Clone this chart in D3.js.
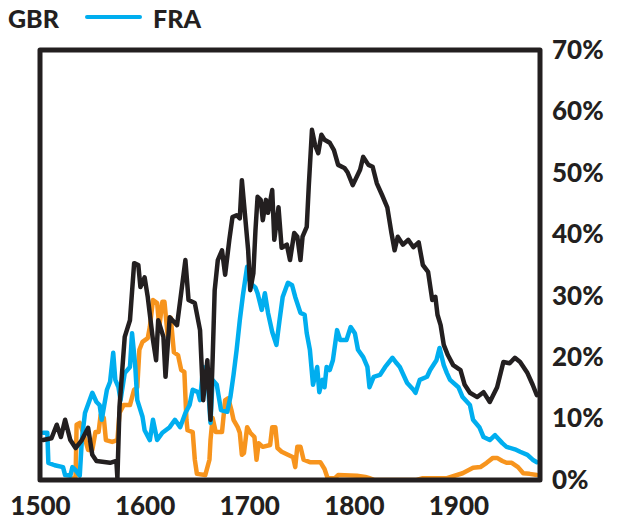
<!DOCTYPE html>
<html>
<head>
<meta charset="utf-8">
<script src="https://cdn.jsdelivr.net/npm/d3@7"></script>
<style>
    body { margin: 0; background: #fff; }
    text { font-family: Lato, 'Open Sans', sans-serif; font-weight: 900; fill: #231f20; }
    .line { fill: none; stroke-width: 4.5; stroke-linejoin: round; stroke-linecap: round; }
</style>
</head>
<body>
<div id="chart"></div>
<script>
// series data (share of total, %)
var gbrYears = [1503, 1511, 1516, 1520, 1524, 1529, 1534, 1540, 1546, 1550, 1554, 1567, 1573, 1574, 1576, 1581, 1586, 1590, 1594, 1596,
    1600, 1603, 1608, 1611, 1613, 1618, 1620, 1624, 1631, 1639, 1642, 1648, 1653, 1656, 1660, 1663, 1665, 1667, 1670, 1674,
    1677, 1681, 1684, 1688, 1691, 1693, 1696, 1699, 1701, 1704, 1706, 1708, 1711, 1713, 1716, 1718, 1722, 1724, 1728, 1731,
    1736, 1739, 1743, 1746, 1749, 1751, 1755, 1757, 1760, 1763, 1766, 1769, 1772, 1777, 1781, 1785, 1791, 1794, 1799, 1806,
    1809, 1814, 1818, 1822, 1827, 1832, 1836, 1839, 1842, 1847, 1852, 1857, 1862, 1866, 1871, 1875, 1878, 1880, 1883, 1886,
    1890, 1895, 1902, 1906, 1911, 1918, 1924, 1930, 1937, 1943, 1949, 1954, 1959, 1966, 1971, 1975];
var gbrValues = [6.5, 6.8, 9.0, 7.0, 9.8, 6.5, 5.2, 6.5, 8.5, 4.1, 3.1, 2.8, 3.1, 0.3, 11.9, 23.3, 26.0, 35.3, 35.0, 31.4,
    33.0, 29.8, 22.8, 19.5, 26.0, 23.3, 16.8, 26.5, 25.2, 35.8, 29.3, 28.8, 24.4, 13.0, 19.5, 9.8, 19.5, 30.9, 35.8, 37.4,
    33.4, 39.1, 42.8, 43.1, 42.6, 48.8, 43.1, 37.4, 30.9, 33.7, 40.7, 46.1, 45.6, 42.3, 45.6, 43.5, 47.2, 39.1, 44.4, 37.8,
    38.3, 35.8, 40.2, 39.6, 35.8, 39.6, 41.2, 48.0, 57.0, 54.5, 53.2, 56.2, 55.4, 54.9, 53.7, 51.3, 50.8, 50.1, 48.0, 50.5,
    52.6, 51.3, 51.0, 48.3, 46.4, 44.4, 40.2, 37.4, 39.6, 38.3, 39.1, 37.9, 38.7, 35.0, 33.9, 29.3, 29.8, 26.9, 25.2, 22.0,
    20.3, 18.7, 17.9, 15.5, 14.2, 13.5, 14.3, 12.7, 15.1, 19.2, 19.0, 19.9, 19.2, 17.4, 15.5, 13.8];

var fraYears = [1503, 1507, 1508, 1514, 1522, 1524, 1529, 1531, 1534, 1538, 1540, 1543, 1550, 1554, 1557, 1559, 1564, 1567, 1570, 1572,
    1575, 1577, 1581, 1586, 1588, 1591, 1593, 1598, 1600, 1605, 1608, 1612, 1617, 1624, 1629, 1634, 1639, 1643, 1646, 1651,
    1653, 1656, 1660, 1663, 1665, 1669, 1673, 1679, 1682, 1685, 1688, 1691, 1694, 1698, 1701, 1706, 1708, 1712, 1715, 1718,
    1722, 1726, 1729, 1732, 1737, 1741, 1744, 1749, 1753, 1755, 1758, 1761, 1765, 1767, 1770, 1772, 1774, 1777, 1780, 1784,
    1787, 1793, 1797, 1801, 1804, 1809, 1813, 1815, 1819, 1825, 1830, 1837, 1841, 1844, 1851, 1857, 1859, 1863, 1870, 1873,
    1879, 1882, 1886, 1889, 1892, 1900, 1904, 1911, 1914, 1920, 1924, 1930, 1935, 1942, 1946, 1954, 1959, 1966, 1971, 1975];
var fraValues = [7.7, 7.7, 2.8, 2.4, 2.1, 0.8, 0.7, 2.1, 1.6, 0.7, 6.5, 10.9, 14.2, 12.7, 12.2, 9.8, 14.7, 16.0, 20.7, 16.3,
    15.1, 13.0, 17.4, 18.4, 23.9, 18.7, 13.0, 10.3, 8.1, 6.5, 9.8, 6.5, 7.7, 8.6, 9.8, 8.6, 10.9, 12.2, 14.7, 14.3,
    13.0, 18.4, 17.1, 9.3, 16.3, 15.5, 11.4, 11.1, 13.5, 17.1, 21.2, 26.0, 30.1, 34.7, 32.1, 31.3, 30.4, 27.7, 30.4, 27.2,
    24.1, 22.0, 26.0, 29.8, 32.1, 31.7, 29.8, 27.2, 26.9, 23.9, 21.2, 15.5, 18.4, 14.3, 16.3, 15.1, 18.4, 17.9, 19.5, 24.4,
    22.8, 22.8, 24.9, 23.9, 21.2, 20.0, 18.4, 15.1, 16.8, 17.1, 18.4, 19.9, 19.0, 18.4, 15.8, 14.7, 14.2, 16.3, 16.8, 17.9,
    19.5, 21.5, 18.7, 17.4, 16.3, 15.1, 13.5, 12.2, 9.8, 8.6, 7.0, 6.5, 7.3, 6.0, 5.4, 5.0, 4.6, 4.1, 3.3, 2.9];

var thirdYears = [1530, 1532, 1534, 1535, 1538, 1542, 1546, 1550, 1553, 1556, 1558, 1561, 1563, 1569, 1574, 1576, 1580, 1586, 1590, 1593,
    1595, 1598, 1603, 1605, 1608, 1612, 1614, 1617, 1619, 1622, 1625, 1628, 1632, 1635, 1638, 1640, 1641, 1646, 1648, 1650,
    1658, 1662, 1663, 1665, 1668, 1674, 1677, 1680, 1683, 1685, 1689, 1691, 1693, 1695, 1698, 1701, 1705, 1707, 1709, 1713,
    1720, 1722, 1725, 1727, 1731, 1737, 1742, 1744, 1746, 1749, 1752, 1758, 1768, 1772, 1775, 1782, 1785, 1803, 1811, 1815,
    1820, 1860, 1866, 1889, 1904, 1914, 1921, 1927, 1933, 1937, 1942, 1946, 1951, 1957, 1962, 1968, 1975];
var thirdValues = [0, 0.3, 0.5, 9.0, 9.3, 7.3, 4.9, 4.9, 7.8, 7.8, 10.6, 10.1, 6.5, 6.2, 6.5, 10.9, 12.2, 12.2, 14.7, 15.1,
    21.2, 22.5, 23.1, 24.9, 29.3, 28.8, 24.9, 29.0, 29.0, 23.6, 26.4, 20.8, 20.3, 17.9, 17.6, 9.8, 8.1, 7.8, 3.3, 1.0,
    0.8, 3.3, 6.5, 10.1, 7.8, 7.8, 13.0, 13.3, 11.4, 9.8, 8.6, 7.7, 4.1, 4.4, 8.6, 7.7, 7.0, 3.3, 6.0, 5.4,
    5.7, 8.6, 8.6, 5.2, 4.6, 4.1, 3.7, 2.1, 5.4, 5.4, 3.3, 2.9, 2.9, 1.8, 0.3, 0.3, 0.8, 0.7, 0.5, 0.3,
    0, 0, 0.3, 0.3, 1.1, 2.0, 2.1, 2.8, 3.6, 3.6, 3.1, 2.8, 2.8, 2.1, 1.1, 1.0, 0.8];

var xTicks = [1500, 1600, 1700, 1800, 1900];
var yTicks = [0, 10, 20, 30, 40, 50, 60, 70];

var svg = d3.select('#chart').append('svg')
    .attr('width', 619)
    .attr('height', 524);

var x = d3.scaleLinear().domain([1500, 1978]).range([40, 540]);
var y = d3.scaleLinear().domain([0, 70]).range([480, 50]);

function toPoints(years, values) {
    return years.map((d, i) => ({ year: d, value: values[i] }));
}

var line = d3.line()
    .x(d => x(d.year))
    .y(d => y(d.value));

svg.append('clipPath')
    .attr('id', 'plot')
    .append('rect')
    .attr('x', 40).attr('y', 50)
    .attr('width', 500).attr('height', 430);

var series = [
    { pts: toPoints(thirdYears, thirdValues), color: '#f7941d' },
    { pts: toPoints(fraYears, fraValues), color: '#00aeef' },
    { pts: toPoints(gbrYears, gbrValues), color: '#231f20' }
];

svg.append('g')
    .attr('clip-path', 'url(#plot)')
    .selectAll('.line')
    .data(series)
    .enter()
    .append('path')
    .attr('class', 'line')
    .attr('stroke', d => d.color)
    .attr('d', d => line(d.pts));

// frame
svg.append('rect')
    .attr('x', 40).attr('y', 50)
    .attr('width', 500).attr('height', 430)
    .attr('fill', 'none')
    .attr('stroke', '#231f20')
    .attr('stroke-width', 5)
    .attr('stroke-linejoin', 'round');

// axes
var xAxis = d3.axisBottom(x)
    .tickValues(xTicks)
    .tickSize(0)
    .tickPadding(17)
    .tickFormat(d3.format('d'));

svg.append('g')
    .attr('class', 'axis')
    .attr('transform', 'translate(0,480)')
    .call(xAxis)
    .call(g => g.select('.domain').remove())
    .selectAll('text')
    .style('font-size', '26px')
    .style('font-family', null);

var yAxis = d3.axisRight(y)
    .tickValues(yTicks)
    .tickSize(0)
    .tickPadding(12)
    .tickFormat(d => d + '%');

svg.append('g')
    .attr('class', 'axis')
    .attr('transform', 'translate(540,0)')
    .call(yAxis)
    .call(g => g.select('.domain').remove())
    .selectAll('text')
    .style('font-size', '26px')
    .style('font-family', null);

// legend
svg.append('text')
    .attr('x', 8).attr('y', 28)
    .style('font-size', '25px')
    .text('GBR');

svg.append('line')
    .attr('x1', 87).attr('x2', 140)
    .attr('y1', 17).attr('y2', 17)
    .attr('stroke', '#00aeef')
    .attr('stroke-width', 4)
    .attr('stroke-linecap', 'round');

svg.append('text')
    .attr('x', 153).attr('y', 28)
    .style('font-size', '25px')
    .text('FRA');
</script>
</body>
</html>
